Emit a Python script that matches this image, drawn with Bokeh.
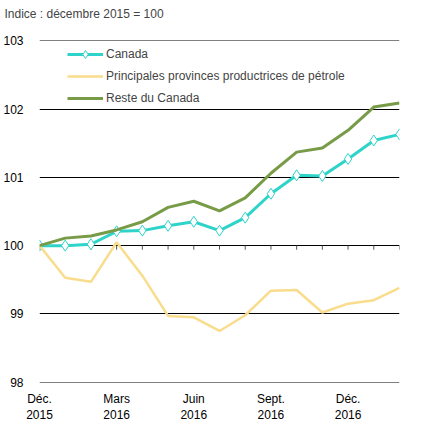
from bokeh.plotting import figure
from bokeh.models import Range1d, FixedTicker
from bokeh.embed import file_html
from bokeh.resources import INLINE

mois = ["2015-12", "2016-01", "2016-02", "2016-03", "2016-04", "2016-05", "2016-06",
        "2016-07", "2016-08", "2016-09", "2016-10", "2016-11", "2016-12", "2017-01", "2017-02"]

canada = [100.0, 100.0, 100.02, 100.21, 100.22, 100.29, 100.35, 100.22,
          100.41, 100.76, 101.03, 101.02, 101.27, 101.54, 101.63]
petrole = [100.0, 99.53, 99.47, 100.05, 99.56, 98.97, 98.95, 98.75,
           98.98, 99.34, 99.35, 99.02, 99.15, 99.20, 99.38]
reste = [100.0, 100.11, 100.14, 100.23, 100.35, 100.56, 100.65, 100.51,
         100.70, 101.06, 101.37, 101.43, 101.69, 102.03, 102.09]

etiquettes_pos = [0, 3, 6, 9, 12]
etiquettes = ["Déc.\n2015", "Mars\n2016", "Juin\n2016", "Sept.\n2016", "Déc.\n2016"]
y_ticks = [98, 99, 100, 101, 102, 103]
titre = "Indice : décembre 2015 = 100"

police = "Liberation Sans"
cyan = "#2ED3C9"
jaune = "#F9DC8C"
vert = "#789B47"

x = list(range(len(mois)))

p = figure(width=417, height=425, output_backend="svg", toolbar_location=None,
           x_range=Range1d(0, len(mois) - 1), y_range=Range1d(97.995, 103.005),
           min_border_left=30, min_border_right=18, min_border_top=40, min_border_bottom=39)
p.outline_line_color = None
p.background_fill_color = None
p.border_fill_color = None

# une ligne vide sous le titre pour le remonter
p.title.text = titre + "\n\u00a0"
p.title.text_font = police
p.title.text_font_size = "12px"
p.title.text_font_style = "normal"
p.title.align = "left"
p.title.vertical_align = "top"
p.title.offset = -35
p.title.standoff = 8

# axes
p.yaxis.ticker = FixedTicker(ticks=y_ticks)
p.yaxis.axis_line_color = None
p.yaxis.major_tick_line_color = None
p.yaxis.minor_tick_line_color = None
p.yaxis.major_label_text_font = police
p.yaxis.major_label_text_font_size = "12px"
p.yaxis.major_label_text_color = "black"
p.yaxis.major_label_standoff = 10

p.xaxis.ticker = FixedTicker(ticks=etiquettes_pos)
p.xaxis.major_label_overrides = dict(zip(etiquettes_pos, etiquettes))
p.xaxis.axis_line_color = None
p.xaxis.major_tick_line_color = None
p.xaxis.minor_tick_line_color = None
p.xaxis.major_label_text_font = police
p.xaxis.major_label_text_font_size = "12px"
p.xaxis.major_label_text_color = "black"
p.xaxis.major_label_standoff = 3

p.xgrid.grid_line_color = None
p.ygrid.ticker = FixedTicker(ticks=y_ticks)
p.ygrid.grid_line_color = "black"
p.ygrid.grid_line_width = 1

# petites graduations sur la ligne 100
p.segment(x0=x, y0=[100] * len(x), x1=x, y1=[99.94] * len(x),
          line_color="#555555", line_width=1)

p.line(x, canada, line_color=cyan, line_width=3, legend_label="Canada")
p.scatter(x, canada, marker="diamond", size=11, fill_color="white", line_color=cyan,
          line_width=1, legend_label="Canada")
p.line(x, petrole, line_color=jaune, line_width=2.5,
       legend_label="Principales provinces productrices de pétrole")
p.line(x, reste, line_color=vert, line_width=3, legend_label="Reste du Canada")

p.legend.location = (28, 274)
p.legend.background_fill_alpha = 0
p.legend.border_line_color = None
p.legend.label_text_font = police
p.legend.label_text_font_size = "12px"
p.legend.glyph_width = 36
p.legend.glyph_height = 20
p.legend.spacing = 2
p.legend.label_standoff = 3
p.legend.margin = 0
p.legend.padding = 2

open("out.html", "w").write(file_html(p, INLINE))
